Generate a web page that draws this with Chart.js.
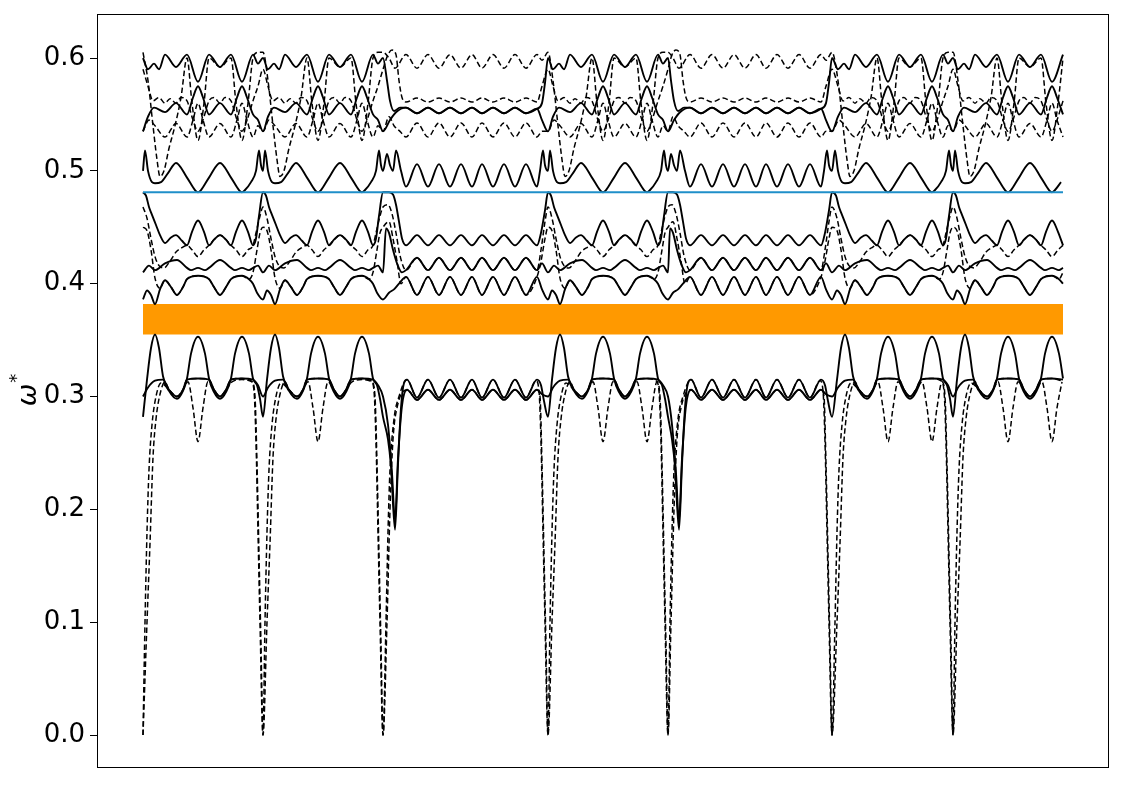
<!DOCTYPE html>
<html>
<head>
<meta charset="utf-8">
<script src="https://cdn.jsdelivr.net/npm/chart.js@4.4.0/dist/chart.umd.min.js"></script>
<style>
  html, body { margin: 0; background: #fff; }
  #wrap { width: 1125px; height: 785px; }
</style>
</head>
<body>
<div id="wrap"><canvas id="bands" width="1125" height="785"></canvas></div>
<script>
// path along the wave vector: where each segment starts, its length and its kind
const segStart = [0, 120, 241, 405, 525, 690, 810];
const segLen   = [120, 121, 164, 120, 165, 120, 110];
const segKind  = ["R", "R", "Q", "P", "Q", "P", "P"];

const yTicks  = [0, 0.1, 0.2, 0.3, 0.4, 0.5, 0.6];
const gapBand = [0.355, 0.382];
const refLine = 0.481;

// ---- branch shapes, [k, omega*] ----
// "P" = the strongly wiggling segments, "Q" = the flat segments with small ripples,
// "R" = first two segments where they differ from "P"

// lower group
const pL1 = [[0,.282],[4,.315],[8,.343],[12,.355],[16,.343],[20,.318],[26,.305],[34,.298],[40,.305],[44,.316],[48,.338],[55,.353],[62,.338],[66,.316],[71,.304],[77,.298],[83,.304],[88,.316],[92,.338],[99,.353],[106,.338],[110,.316],[114,.31],[117,.298],[120,.282]];
const qL1 = [[0,.282],[4,.262],[7,.238],[11,.182],[14,.24],[17,.29],[20,.312],[23,.315],[33,.299],[44,.315],[55,.299],[66,.315],[77,.299],[88,.315],[98,.299],[109,.315],[120,.299],[131,.315],[142,.299],[153,.315],[157,.31],[160,.296],[164,.282]];
const pL2 = [[0,.3],[5,.308],[12,.314],[20,.315],[26,.306],[34,.3],[40,.306],[44,.315],[55,.316],[66,.315],[71,.306],[77,.3],[83,.306],[88,.315],[99,.316],[110,.315],[115,.31],[120,.3]];
const qL2 = [[0,.3],[4,.275],[8,.232],[11,.19],[14,.245],[18,.292],[23,.306],[33,.297],[44,.306],[55,.297],[66,.306],[77,.297],[88,.306],[98,.297],[109,.306],[120,.297],[131,.306],[142,.297],[153,.306],[158,.302],[164,.3]];
const pL3 = [[0,0],[4,.1],[7,.17],[10,.246],[13,.28],[17,.302],[22,.313],[26,.306],[34,.3],[40,.306],[45,.313],[50,.29],[55,.26],[60,.29],[65,.313],[71,.306],[77,.3],[83,.306],[89,.313],[94,.29],[99,.26],[104,.29],[109,.313],[112,.3],[114,.24],[116,.16],[118,.08],[120,0]];
const rL3 = [[0,0],[4,.1],[7,.17],[10,.246],[13,.28],[17,.302],[22,.313],[26,.306],[34,.3],[40,.306],[45,.313],[50,.29],[55,.26],[60,.29],[65,.313],[71,.306],[77,.3],[83,.306],[89,.313],[99,.315],[109,.313],[112,.3],[114,.24],[116,.16],[118,.08],[120,0]];
const qL3 = [[0,0],[3,.1],[6,.2],[9,.262],[13,.29],[23,.306],[33,.297],[44,.306],[55,.297],[66,.306],[77,.297],[88,.306],[98,.297],[109,.306],[120,.297],[131,.306],[142,.297],[153,.306],[156,.3],[158,.24],[160,.16],[162,.08],[164,0]];
const pL4 = [[0,0],[2,.1],[4,.18],[6,.235],[9,.275],[13,.3],[18,.312],[26,.306],[34,.3],[40,.306],[44,.315],[55,.316],[66,.315],[71,.306],[77,.3],[83,.306],[88,.315],[99,.316],[108,.314],[111,.305],[113,.26],[115,.18],[117,.1],[120,0]];
const qL4 = [[0,0],[2,.1],[4,.18],[6,.235],[10,.28],[15,.3],[23,.315],[33,.299],[44,.315],[55,.299],[66,.315],[77,.299],[88,.315],[98,.299],[109,.315],[120,.299],[131,.315],[142,.299],[152,.314],[155,.305],[157,.26],[159,.18],[161,.1],[164,0]];

// middle group
const pU6 = [[0,.481],[3,.478],[6,.468],[9,.461],[13,.452],[17,.443],[22,.436],[28,.441],[33,.443],[39,.438],[44,.434],[49,.446],[55,.456],[61,.446],[66,.434],[71,.439],[77,.443],[83,.439],[88,.434],[93,.446],[99,.456],[105,.446],[110,.434],[113,.44],[116,.46],[120,.481]];
const qU6 = [[0,.481],[5,.481],[9,.479],[12,.47],[15,.455],[18,.44],[22,.434],[33,.443],[44,.434],[55,.443],[66,.434],[77,.443],[88,.434],[98,.443],[109,.434],[120,.443],[131,.434],[142,.443],[153,.434],[157,.445],[161,.465],[164,.481]];
const pD5 = [[0,.468],[4,.458],[8,.44],[12,.424],[16,.416],[21,.414],[27,.42],[33,.428],[39,.432],[44,.434],[49,.43],[55,.424],[61,.43],[66,.434],[71,.439],[77,.443],[83,.439],[88,.434],[93,.43],[99,.424],[105,.43],[110,.434],[113,.445],[117,.46],[120,.468]];
const qD5 = [[0,.468],[4,.47],[8,.462],[12,.445],[16,.425],[22,.412],[33,.423],[44,.412],[55,.423],[66,.412],[77,.423],[88,.412],[98,.423],[109,.412],[120,.423],[131,.412],[142,.423],[153,.412],[157,.43],[161,.455],[164,.468]];
const pU7 = [[0,.41],[6,.416],[12,.412],[22,.418],[34,.421],[44,.414],[48,.412],[55,.414],[62,.412],[66,.414],[77,.421],[88,.414],[92,.412],[99,.414],[106,.412],[110,.414],[115,.416],[120,.41]];
const qU7 = [[0,.41],[2,.449],[5,.445],[9,.43],[13,.418],[18,.41],[22,.412],[33,.423],[44,.412],[55,.423],[66,.412],[77,.423],[88,.412],[98,.423],[109,.412],[120,.423],[131,.412],[142,.423],[153,.412],[158,.418],[164,.41]];
const pU8 = [[0,.386],[4,.394],[8,.39],[12,.382],[17,.395],[22,.403],[28,.397],[34,.39],[40,.397],[44,.404],[55,.407],[66,.404],[71,.397],[77,.39],[83,.397],[88,.404],[99,.407],[106,.404],[110,.4],[114,.392],[120,.386]];
const qU8 = [[0,.386],[5,.392],[10,.395],[15,.4],[22,.406],[33,.39],[44,.406],[55,.39],[66,.406],[77,.39],[88,.406],[98,.39],[109,.406],[120,.39],[131,.406],[142,.39],[153,.406],[158,.395],[164,.386]];
const pD6 = [[0,.45],[4,.447],[8,.43],[12,.405],[17,.396],[22,.403],[28,.397],[34,.39],[40,.397],[44,.404],[55,.407],[66,.404],[71,.397],[77,.39],[83,.397],[88,.404],[99,.407],[106,.404],[110,.41],[114,.43],[117,.445],[120,.45]];
const qD6 = [[0,.45],[5,.455],[9,.44],[13,.42],[17,.4],[22,.406],[33,.39],[44,.406],[55,.39],[66,.406],[77,.39],[88,.406],[98,.39],[109,.406],[120,.39],[131,.406],[142,.39],[153,.406],[157,.42],[161,.44],[164,.45]];

// upper group
const pT1 = [[0,.6],[5,.59],[11,.595],[16,.59],[22,.603],[33,.592],[44,.603],[55,.579],[66,.603],[77,.592],[88,.603],[99,.579],[110,.603],[115,.595],[120,.6]];
const qT1 = [[0,.6],[3,.58],[6,.562],[10,.553],[16,.556],[22,.556],[33,.551],[44,.556],[55,.551],[66,.556],[77,.551],[88,.556],[98,.551],[109,.556],[120,.551],[131,.556],[142,.551],[153,.555],[158,.56],[161,.578],[164,.6]];
const pT2 = [[0,.605],[5,.58],[10,.54],[14,.51],[17,.495],[21,.5],[26,.52],[32,.54],[38,.565],[44,.6],[49,.56],[55,.527],[61,.56],[66,.6],[77,.592],[88,.6],[93,.56],[99,.527],[105,.56],[110,.6],[115,.605],[120,.605]];
const qT2 = [[0,.605],[5,.6],[11,.591],[22,.603],[33,.591],[44,.603],[55,.591],[66,.603],[77,.591],[88,.603],[98,.591],[109,.603],[120,.591],[131,.603],[142,.591],[153,.603],[158,.598],[164,.605]];
const pU2 = [[0,.59],[5,.575],[10,.562],[16,.565],[22,.56],[27,.564],[33,.56],[38,.565],[44,.562],[50,.545],[55,.535],[60,.545],[66,.562],[71,.565],[77,.56],[82,.565],[88,.562],[94,.545],[99,.535],[104,.545],[110,.562],[115,.575],[120,.59]];
const qU2 = [[0,.59],[4,.603],[8,.607],[12,.603],[15,.58],[18,.565],[22,.561],[33,.5645],[44,.561],[55,.5645],[66,.561],[77,.5645],[88,.561],[98,.5645],[109,.561],[120,.5645],[131,.561],[142,.5645],[153,.561],[158,.575],[164,.59]];
const pU3 = [[0,.535],[5,.548],[11,.556],[22,.552],[33,.56],[44,.55],[50,.565],[55,.575],[60,.565],[66,.55],[77,.56],[88,.55],[94,.565],[99,.575],[104,.565],[110,.55],[115,.545],[120,.535]];
const qU3 = [[0,.535],[6,.545],[12,.552],[22,.556],[33,.551],[44,.556],[55,.551],[66,.556],[77,.551],[88,.556],[98,.551],[109,.556],[120,.551],[131,.556],[142,.551],[153,.555],[158,.545],[164,.535]];
const pU4 = [[0,.535],[6,.545],[12,.54],[22,.53],[33,.542],[44,.53],[50,.545],[55,.56],[60,.545],[66,.53],[77,.542],[88,.53],[94,.545],[99,.56],[104,.545],[110,.53],[115,.54],[120,.535]];
const qU4 = [[0,.535],[5,.548],[10,.54],[16,.535],[22,.53],[33,.5425],[44,.53],[55,.5425],[66,.53],[77,.5425],[88,.53],[98,.5425],[109,.53],[120,.5425],[131,.53],[142,.5425],[153,.53],[158,.535],[164,.535]];
const pU5 = [[0,.5],[2,.518],[5,.5],[9,.49],[12,.489],[18,.49],[25,.498],[33,.507],[44,.494],[52,.483],[55,.481],[58,.483],[66,.494],[77,.507],[88,.494],[96,.483],[99,.481],[102,.483],[108,.49],[113,.5],[116,.518],[118,.505],[120,.5]];
const qU5 = [[0,.5],[3,.515],[6,.505],[9,.5],[12,.518],[17,.5],[22,.486],[33,.506],[44,.486],[55,.506],[66,.486],[77,.506],[88,.486],[98,.506],[109,.486],[120,.506],[131,.486],[142,.506],[153,.486],[156,.5],[159,.518],[161,.505],[164,.5]];

// [P shape, Q shape, R shape (or null = same as P), dashed?]
const branches = [
  [pT1, qT1, null, false], [pT2, qT2, null, true], [pU2, qU2, null, true], [pU3, qU3, null, false],
  [pU4, qU4, null, true], [pU5, qU5, null, false], [pU6, qU6, null, false], [pD5, qD5, null, true],
  [pU7, qU7, null, false], [pU8, qU8, null, false], [pD6, qD6, null, true],
  [pL1, qL1, null, false], [pL2, qL2, null, false], [pL3, qL3, rL3, true], [pL4, qL4, null, true]
];

function build(p, q, r) {
  const out = [];
  segStart.forEach((s, i) => {
    const kind = segKind[i];
    const tpl = kind === "Q" ? q : (kind === "R" && r ? r : p);
    tpl.forEach(([k, w], j) => {
      if (k > segLen[i] + 0.5) return;
      if (i > 0 && j === 0) return;     // shared with the previous segment
      out.push({ x: s + k, y: w });
    });
  });
  return out;
}

const kEnd = segStart[segStart.length - 1] + segLen[segLen.length - 1];

const datasets = [];
datasets.push({
  data: [{ x: 0, y: refLine }, { x: kEnd, y: refLine }],
  borderColor: "#1f8fc9", borderWidth: 2, fill: false
});
branches.forEach(([p, q, r, dashed]) => {
  datasets.push({
    data: build(p, q, r),
    borderColor: "#000",
    borderWidth: dashed ? 1.5 : 1.9,
    borderDash: dashed ? [5.5, 3] : [],
    fill: false
  });
});
datasets.push({
  data: [{ x: 0, y: gapBand[1] }, { x: kEnd, y: gapBand[1] }],
  borderWidth: 0,
  backgroundColor: "#ff9900",
  fill: { value: gapBand[0] }
});

const frame = {
  id: "frame",
  afterDraw(chart) {
    const a = chart.chartArea, c = chart.ctx;
    c.save();
    c.strokeStyle = "#000";
    c.lineWidth = 1;
    c.strokeRect(a.left + 0.5, a.top + 0.5, a.right - a.left - 1, a.bottom - a.top - 1);
    c.restore();
  }
};

const yTitle = {
  id: "yTitle",
  afterDraw(chart) {
    const a = chart.chartArea, c = chart.ctx;
    c.save();
    c.translate(36, (a.top + a.bottom) / 2);
    c.rotate(-Math.PI / 2);
    c.fillStyle = "#000";
    c.textBaseline = "alphabetic";
    c.font = "italic 27px 'DejaVu Sans'";
    const w = c.measureText("\u03c9").width;
    c.fillText("\u03c9", -w / 2 - 4, 0);
    c.font = "18px 'DejaVu Sans'";
    c.fillText("*", w / 2 - 3, -14);
    c.restore();
  }
};

new Chart(document.getElementById("bands"), {
  type: "line",
  data: { datasets },
  options: {
    responsive: false,
    animation: false,
    devicePixelRatio: 1,
    layout: { padding: { left: 0, right: 16, top: 14, bottom: 17 } },
    plugins: { legend: { display: false }, tooltip: { enabled: false } },
    elements: {
      point: { radius: 0 },
      line: { cubicInterpolationMode: "monotone" }
    },
    scales: {
      x: { type: "linear", min: -46, max: 966, display: false },
      y: {
        min: -0.0292, max: 0.639,
        afterBuildTicks: s => { s.ticks = yTicks.map(v => ({ value: v })); },
        afterFit: s => { s.width = 97; s.paddingTop = 0; s.paddingBottom = 0; },
        ticks: {
          font: { size: 26, family: "'DejaVu Sans'" },
          color: "#000",
          padding: 5,
          callback: v => v.toFixed(1)
        },
        grid: { drawOnChartArea: false, tickLength: 7, color: "#000", lineWidth: 1 },
        border: { display: false }
      }
    }
  },
  plugins: [frame, yTitle]
});
</script>
</body>
</html>
